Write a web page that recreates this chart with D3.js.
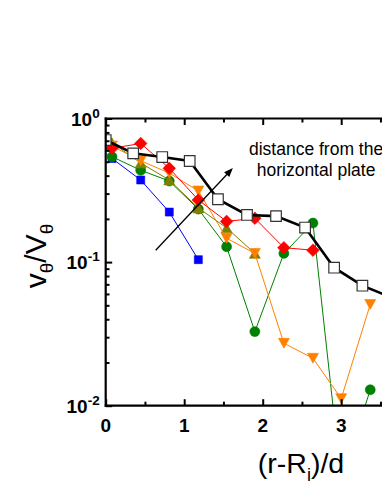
<!DOCTYPE html>
<html><head><meta charset="utf-8">
<script src="https://cdn.jsdelivr.net/npm/d3@7"></script>
<style>body{margin:0;background:#fff;overflow:hidden}svg{display:block}</style>
</head><body><div id="chart"></div>
<script>
// ---- data ----
const xTicks = [0, 1, 2, 3];
const xMinorTicks = [0.5, 1.5, 2.5, 3.5];
const yTicks = [1e-2, 1e-1, 1e0];
const yTickBase = ["10", "10", "10"];
const yTickExp = ["-2", "-1", "0"];
const xBlack = [0.0, 0.35, 0.72, 1.07, 1.43, 1.80, 2.17, 2.54, 2.91, 3.27, 3.63];
const yBlack = [0.708, 0.572, 0.539, 0.506, 0.274, 0.213, 0.209, 0.174, 0.0914, 0.0685, 0.057];
const xColor = [0.08, 0.446, 0.81, 1.18, 1.54, 1.90, 2.27, 2.64, 3.00, 3.37];
const yRed = [0.620, 0.670, 0.450, 0.271, 0.192, 0.202, 0.126, 0.121];
const yOrange = [0.643, 0.508, 0.417, 0.313, 0.1465, 0.115, 0.0272, 0.0214, 0.0112, 0.0507];
const yOlive = [0.678, 0.490, 0.373, 0.238, 0.173, 0.115];
const yGreen = [0.542, 0.436, 0.367, 0.234, 0.128, 0.0328, 0.115, 0.187, 0.003, 0.0129];
const yBlue = [0.527, 0.373, 0.223, 0.104];
const arrowX = [0.637, 1.62];
const arrowY = [0.121, 0.452];
const annotation = ["distance from the", "horizontal plate"];

(function () {
// ---- layout ----
const W = 382, H = 494;
const pL = 105.7, pT = 118.5, pB = 405.7, pR = 419.7;

const svg = d3.select("#chart").append("svg").attr("width", W).attr("height", H);
const x = d3.scaleLinear().domain([0, 4]).range([pL, pR]);
const y = d3.scaleLog().domain([1e-2, 1]).range([pB, pT]);

svg.append("defs").append("clipPath").attr("id", "clip")
  .append("rect").attr("x", pL).attr("y", pT).attr("width", pR - pL).attr("height", pB - pT);

const plot = svg.append("g").attr("clip-path", "url(#clip)");
const line = d3.line().x(d => x(d[0])).y(d => y(d[1]));

function tri(down, s) {
  const h = s * 0.9, w = s / 2;
  return down ? `M${-w},${-h/2}L${w},${-h/2}L0,${h/2}Z` : `M${-w},${h/2}L${w},${h/2}L0,${-h/2}Z`;
}
const shapes = {
  bsq: () => "M-4,-4H4V4H-4Z",
  circle: () => d3.symbol(d3.symbolCircle, 78)(),
  up: () => tri(false, 11),
  down: () => tri(true, 11),
  diamond: () => "M0,-6.3L6.3,0L0,6.3L-6.3,0Z",
  wsq: () => "M-5.3,-5.3H5.3V5.3H-5.3Z"
};

const series = [
  {xs: xColor, ys: yBlue, color: "#0000FF", shape: "bsq", lw: 1},
  {xs: xColor, ys: yGreen, color: "#008000", shape: "circle", lw: 1},
  {xs: xColor, ys: yOlive, color: "#808000", shape: "up", lw: 1},
  {xs: xColor, ys: yOrange, color: "#FF8000", shape: "down", lw: 1},
  {xs: xColor, ys: yRed, color: "#FF0000", shape: "diamond", lw: 1},
  {xs: xBlack, ys: yBlack, color: "#000000", shape: "wsq", lw: 2.6, fill: "#fff", stroke: "#333"}
];

series.forEach(s => {
  const pts = s.ys.map((v, i) => [s.xs[i], v]);
  plot.append("path").datum(pts).attr("d", line)
    .attr("fill", "none").attr("stroke", s.color).attr("stroke-width", s.lw);
  plot.selectAll(null).data(pts).enter().append("path")
    .attr("transform", d => `translate(${x(d[0])},${y(d[1])})`)
    .attr("d", shapes[s.shape]())
    .attr("fill", s.fill || s.color)
    .attr("stroke", s.stroke || s.color)
    .attr("stroke-width", s.fill ? 1.2 : 0.6);
});

// arrow
const ax0 = x(arrowX[0]), ay0 = y(arrowY[0]), ax1 = x(arrowX[1]), ay1 = y(arrowY[1]);
const a = Math.atan2(ay1 - ay0, ax1 - ax0);
svg.append("line").attr("x1", ax0).attr("y1", ay0)
  .attr("x2", ax1 - 4 * Math.cos(a)).attr("y2", ay1 - 4 * Math.sin(a))
  .attr("stroke", "#000").attr("stroke-width", 1.3);
svg.append("path").attr("d", "M0,0L-9,-3.5L-9,3.5Z")
  .attr("transform", `translate(${ax1},${ay1}) rotate(${a * 180 / Math.PI})`).attr("fill", "#000");

const font = "Liberation Sans, Arial, sans-serif";
// annotation
const annX = x(2.68);
svg.append("text").attr("x", annX).attr("y", 155).attr("text-anchor", "middle")
  .attr("font-family", font).attr("font-size", 17.5).text(annotation[0]);
svg.append("text").attr("x", annX).attr("y", 176).attr("text-anchor", "middle")
  .attr("font-family", font).attr("font-size", 17.5).text(annotation[1]);

// axes
const axes = svg.append("g");
function styleAxis(g) {
  g.select(".domain").remove();
  g.selectAll("text").remove();
  g.selectAll("line").attr("stroke", "#000").attr("stroke-width", 2);
}
axes.append("g").attr("transform", `translate(0,${pB})`)
  .call(d3.axisBottom(x).tickValues(xTicks).tickSize(-6.5)).call(styleAxis);
axes.append("g").attr("transform", `translate(0,${pB})`)
  .call(d3.axisBottom(x).tickValues(xMinorTicks).tickSize(-4)).call(styleAxis);
axes.append("g").attr("transform", `translate(0,${pT})`)
  .call(d3.axisTop(x).tickValues(xTicks).tickSize(-6.5)).call(styleAxis);
axes.append("g").attr("transform", `translate(0,${pT})`)
  .call(d3.axisTop(x).tickValues(xMinorTicks).tickSize(-4)).call(styleAxis);
const yMinor = [];
[1e-2, 1e-1].forEach(b => { for (let k = 2; k <= 9; k++) yMinor.push(b * k); });
axes.append("g").attr("transform", `translate(${pL},0)`)
  .call(d3.axisLeft(y).tickValues(yTicks).tickSize(-6.5)).call(styleAxis);
axes.append("g").attr("transform", `translate(${pL},0)`)
  .call(d3.axisLeft(y).tickValues(yMinor).tickSize(-3.8)).call(styleAxis);

axes.append("line").attr("x1", pL).attr("x2", pL).attr("y1", pT - 1).attr("y2", pB + 1)
  .attr("stroke", "#000").attr("stroke-width", 2.2);
axes.append("line").attr("x1", pL - 1).attr("x2", pR).attr("y1", pB).attr("y2", pB)
  .attr("stroke", "#000").attr("stroke-width", 2.2);
axes.append("line").attr("x1", pL - 1).attr("x2", pR).attr("y1", pT).attr("y2", pT)
  .attr("stroke", "#000").attr("stroke-width", 2.2);

// tick labels
svg.selectAll(".xl").data(xTicks).enter().append("text")
  .attr("x", d => x(d)).attr("y", pB + 26).attr("text-anchor", "middle")
  .attr("font-family", font).attr("font-weight", "bold").attr("font-size", 19).text(d => d);
yTicks.forEach((v, i) => {
  const t = svg.append("text").attr("x", pL - 6).attr("y", y(v) + 7).attr("text-anchor", "end")
    .attr("font-family", font).attr("font-weight", "bold").attr("font-size", 19);
  t.append("tspan").text(yTickBase[i]);
  t.append("tspan").attr("dy", -8).attr("font-size", 13.5).text(yTickExp[i]);
});

// axis titles
const xt = svg.append("text").attr("x", 301).attr("y", 473).attr("text-anchor", "middle")
  .attr("font-family", font).attr("font-size", 28.5);
xt.append("tspan").text("(r-R");
xt.append("tspan").attr("dy", 8).attr("font-size", 18).text("i");
xt.append("tspan").attr("dy", -8).text(")/d");

const yt = svg.append("text").attr("transform", `translate(46,256) rotate(-90)`).attr("text-anchor", "middle")
  .attr("font-family", font).attr("font-size", 30);
yt.append("tspan").text("v");
yt.append("tspan").attr("dy", 7).attr("font-size", 19).text("θ");
yt.append("tspan").attr("dy", -7).text("/V");
yt.append("tspan").attr("dy", 7).attr("font-size", 19).text("θ");
})();
</script>
</body></html>
